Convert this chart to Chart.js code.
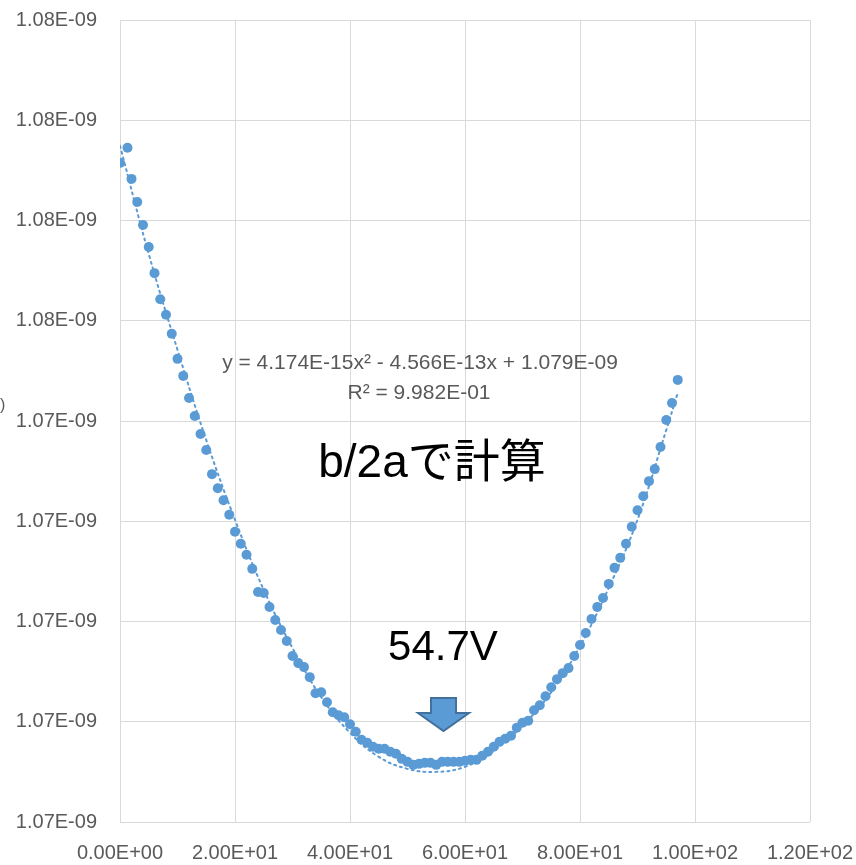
<!DOCTYPE html>
<html><head><meta charset="utf-8">
<script src="https://cdn.jsdelivr.net/npm/chart.js@4.4.1/dist/chart.umd.min.js"></script>
<style>html,body{margin:0;padding:0;background:#fff}#wrap{width:856px;height:865px;position:relative}</style>
</head><body><div id="wrap"><canvas id="c"></canvas></div>
<script>
// measured data (x: voltage, y: value)
const xValues = [0,1.3,2,3,4,5,6,7,8,9,10,11,12,13,14,15,16,17,18,19,20,21,22,23,24,25,26,27,28,29,30,31,32,33,34,35,36,37,38,39,40,41,42,43,44,45,46,47,48,49,50,51,52,53,54,55,56,57,58,59,60,61,62,63,64,65,66,67,68,69,70,71,72,73,74,75,76,77,78,79,80,81,82,83,84,85,86,87,88,89,90,91,92,93,94,95,96,97];
const yValues = [
1.07915e-9,1.07945e-9,1.07883e-9,1.07837e-9,1.07791e-9,1.07747e-9,1.07695e-9,1.07643e-9,1.07612e-9,1.07574e-9,
1.07524e-9,1.07490e-9,1.07446e-9,1.07410e-9,1.07374e-9,1.07342e-9,1.07294e-9,1.07266e-9,1.07242e-9,1.07213e-9,
1.07179e-9,1.07155e-9,1.07133e-9,1.07105e-9,1.07059e-9,1.07057e-9,1.07029e-9,1.07003e-9,1.06983e-9,1.06961e-9,
1.06931e-9,1.06917e-9,1.06909e-9,1.06889e-9,1.06857e-9,1.06859e-9,1.06839e-9,1.06819e-9,1.06813e-9,1.06809e-9,
1.06795e-9,1.06780e-9,1.06764e-9,1.06758e-9,1.06750e-9,1.06746e-9,1.06746e-9,1.06740e-9,1.06736e-9,1.06726e-9,
1.06720e-9,1.06714e-9,1.06716e-9,1.06718e-9,1.06718e-9,1.06714e-9,1.06720e-9,1.06720e-9,1.06720e-9,1.06720e-9,
1.06722e-9,1.06724e-9,1.06724e-9,1.06732e-9,1.06740e-9,1.06750e-9,1.06760e-9,1.06766e-9,1.06772e-9,1.06788e-9,
1.06798e-9,1.06802e-9,1.06823e-9,1.06833e-9,1.06851e-9,1.06869e-9,1.06885e-9,1.06897e-9,1.06907e-9,1.06931e-9,
1.06953e-9,1.06977e-9,1.07005e-9,1.07029e-9,1.07047e-9,1.07075e-9,1.07107e-9,1.07127e-9,1.07155e-9,1.07189e-9,
1.07222e-9,1.07250e-9,1.07280e-9,1.07304e-9,1.07348e-9,1.07402e-9,1.07436e-9,1.07482e-9];
// dotted trendline
const trendX = [0,5,10,15,20,25,30,35,40,45,50,55,60,65,70,75,80,85,90,95,97];
const trendY = [1.07949e-9,1.07733e-9,1.07542e-9,1.07362e-9,1.07203e-9,1.07063e-9,1.06947e-9,1.06849e-9,1.06778e-9,1.06730e-9,1.06706e-9,1.06700e-9,1.06710e-9,1.06742e-9,1.06792e-9,1.06859e-9,1.06951e-9,1.07067e-9,1.07203e-9,1.07382e-9,1.07456e-9];
// tick values
const xTicks = [0,20,40,60,80,100,120];
const yTicks = [1.066e-9,1.068e-9,1.070e-9,1.072e-9,1.074e-9,1.076e-9,1.078e-9,1.080e-9,1.082e-9];
// texts
const equationText = 'y = 4.174E-15x² - 4.566E-13x + 1.079E-09';
const r2Text = 'R² = 9.982E-01';
const noteText = 'b/2aで計算';
const vertexText = '54.7V';

function fmtE(v){
  if (Math.abs(v) < 1e-30) return '0.00E+00';
  const parts = v.toExponential(2).split('e');
  const n = parseInt(parts[1],10);
  return parts[0] + 'E' + (n<0?'-':'+') + String(Math.abs(n)).padStart(2,'0');
}

const annot = {
  id:'annot',
  afterDraw(chart){
    const ctx = chart.ctx;
    ctx.save();
    ctx.textAlign='center'; ctx.textBaseline='alphabetic';
    ctx.fillStyle='#595959';
    ctx.font='21px "Liberation Sans", Arial, sans-serif';
    ctx.fillText(equationText, 420, 369);
    ctx.fillText(r2Text, 419, 399);
    ctx.fillStyle='#000';
    ctx.font='46px "Liberation Sans", "Noto Sans CJK JP", sans-serif';
    ctx.fillText(noteText, 432, 477);
    ctx.font='42px "Liberation Sans", sans-serif';
    ctx.fillText(vertexText, 443, 660);
    // down arrow callout
    ctx.beginPath();
    ctx.moveTo(431,698); ctx.lineTo(456,698); ctx.lineTo(456,713); ctx.lineTo(469,713);
    ctx.lineTo(443.5,731); ctx.lineTo(418,713); ctx.lineTo(431,713); ctx.closePath();
    ctx.fillStyle='#5b9bd5'; ctx.fill();
    ctx.strokeStyle='#41719c'; ctx.lineWidth=2; ctx.lineJoin='miter'; ctx.stroke();
    // clipped axis title remnant
    ctx.fillStyle='#595959'; ctx.textAlign='left';
    ctx.font='16px "Liberation Sans", sans-serif';
    ctx.fillText(')', 0, 410);
    ctx.restore();
  }
};

const tickFont = {family:'"Liberation Sans", Arial, sans-serif', size:20};
new Chart(document.getElementById('c'), {
  type:'scatter',
  data:{datasets:[
    {label:'data', data:xValues.map((x,i)=>({x:x,y:yValues[i]})), pointRadius:5, pointHoverRadius:5,
     backgroundColor:'#5b9bd5', borderWidth:0, pointBorderWidth:0, order:0},
    {label:'trend', type:'line', data:trendX.map((x,i)=>({x:x,y:trendY[i]})), showLine:true, pointRadius:0,
     borderColor:'#5b9bd5', borderWidth:2, borderDash:[2,4], borderCapStyle:'round', tension:0.4, fill:false, order:1}
  ]},
  options:{
    responsive:true, maintainAspectRatio:false, animation:false,
    layout:{padding:{top:20,right:46,left:0,bottom:0}},
    plugins:{legend:{display:false}, tooltip:{enabled:false}},
    scales:{
      x:{type:'linear', min:0, max:120,
         afterBuildTicks(s){ s.ticks = xTicks.map(v=>({value:v})); },
         afterFit(s){ s.height = 43; s.paddingLeft = 0; s.paddingRight = 0; },
         ticks:{callback:(v)=>fmtE(v), color:'#595959', font:tickFont, padding:19, maxRotation:0, autoSkip:false},
         grid:{color:'#d9d9d9', lineWidth:1, drawTicks:false}, border:{display:false}},
      y:{type:'linear', min:1.066e-9, max:1.082e-9,
         afterBuildTicks(s){ s.ticks = yTicks.map(v=>({value:v})); },
         afterFit(s){ s.width = 120; s.paddingTop = 0; s.paddingBottom = 0; },
         ticks:{callback:(v)=>fmtE(v), color:'#595959', font:tickFont, padding:23, autoSkip:false},
         grid:{color:'#d9d9d9', lineWidth:1, drawTicks:false}, border:{display:false}}
    }
  },
  plugins:[annot]
});
</script></body></html>
